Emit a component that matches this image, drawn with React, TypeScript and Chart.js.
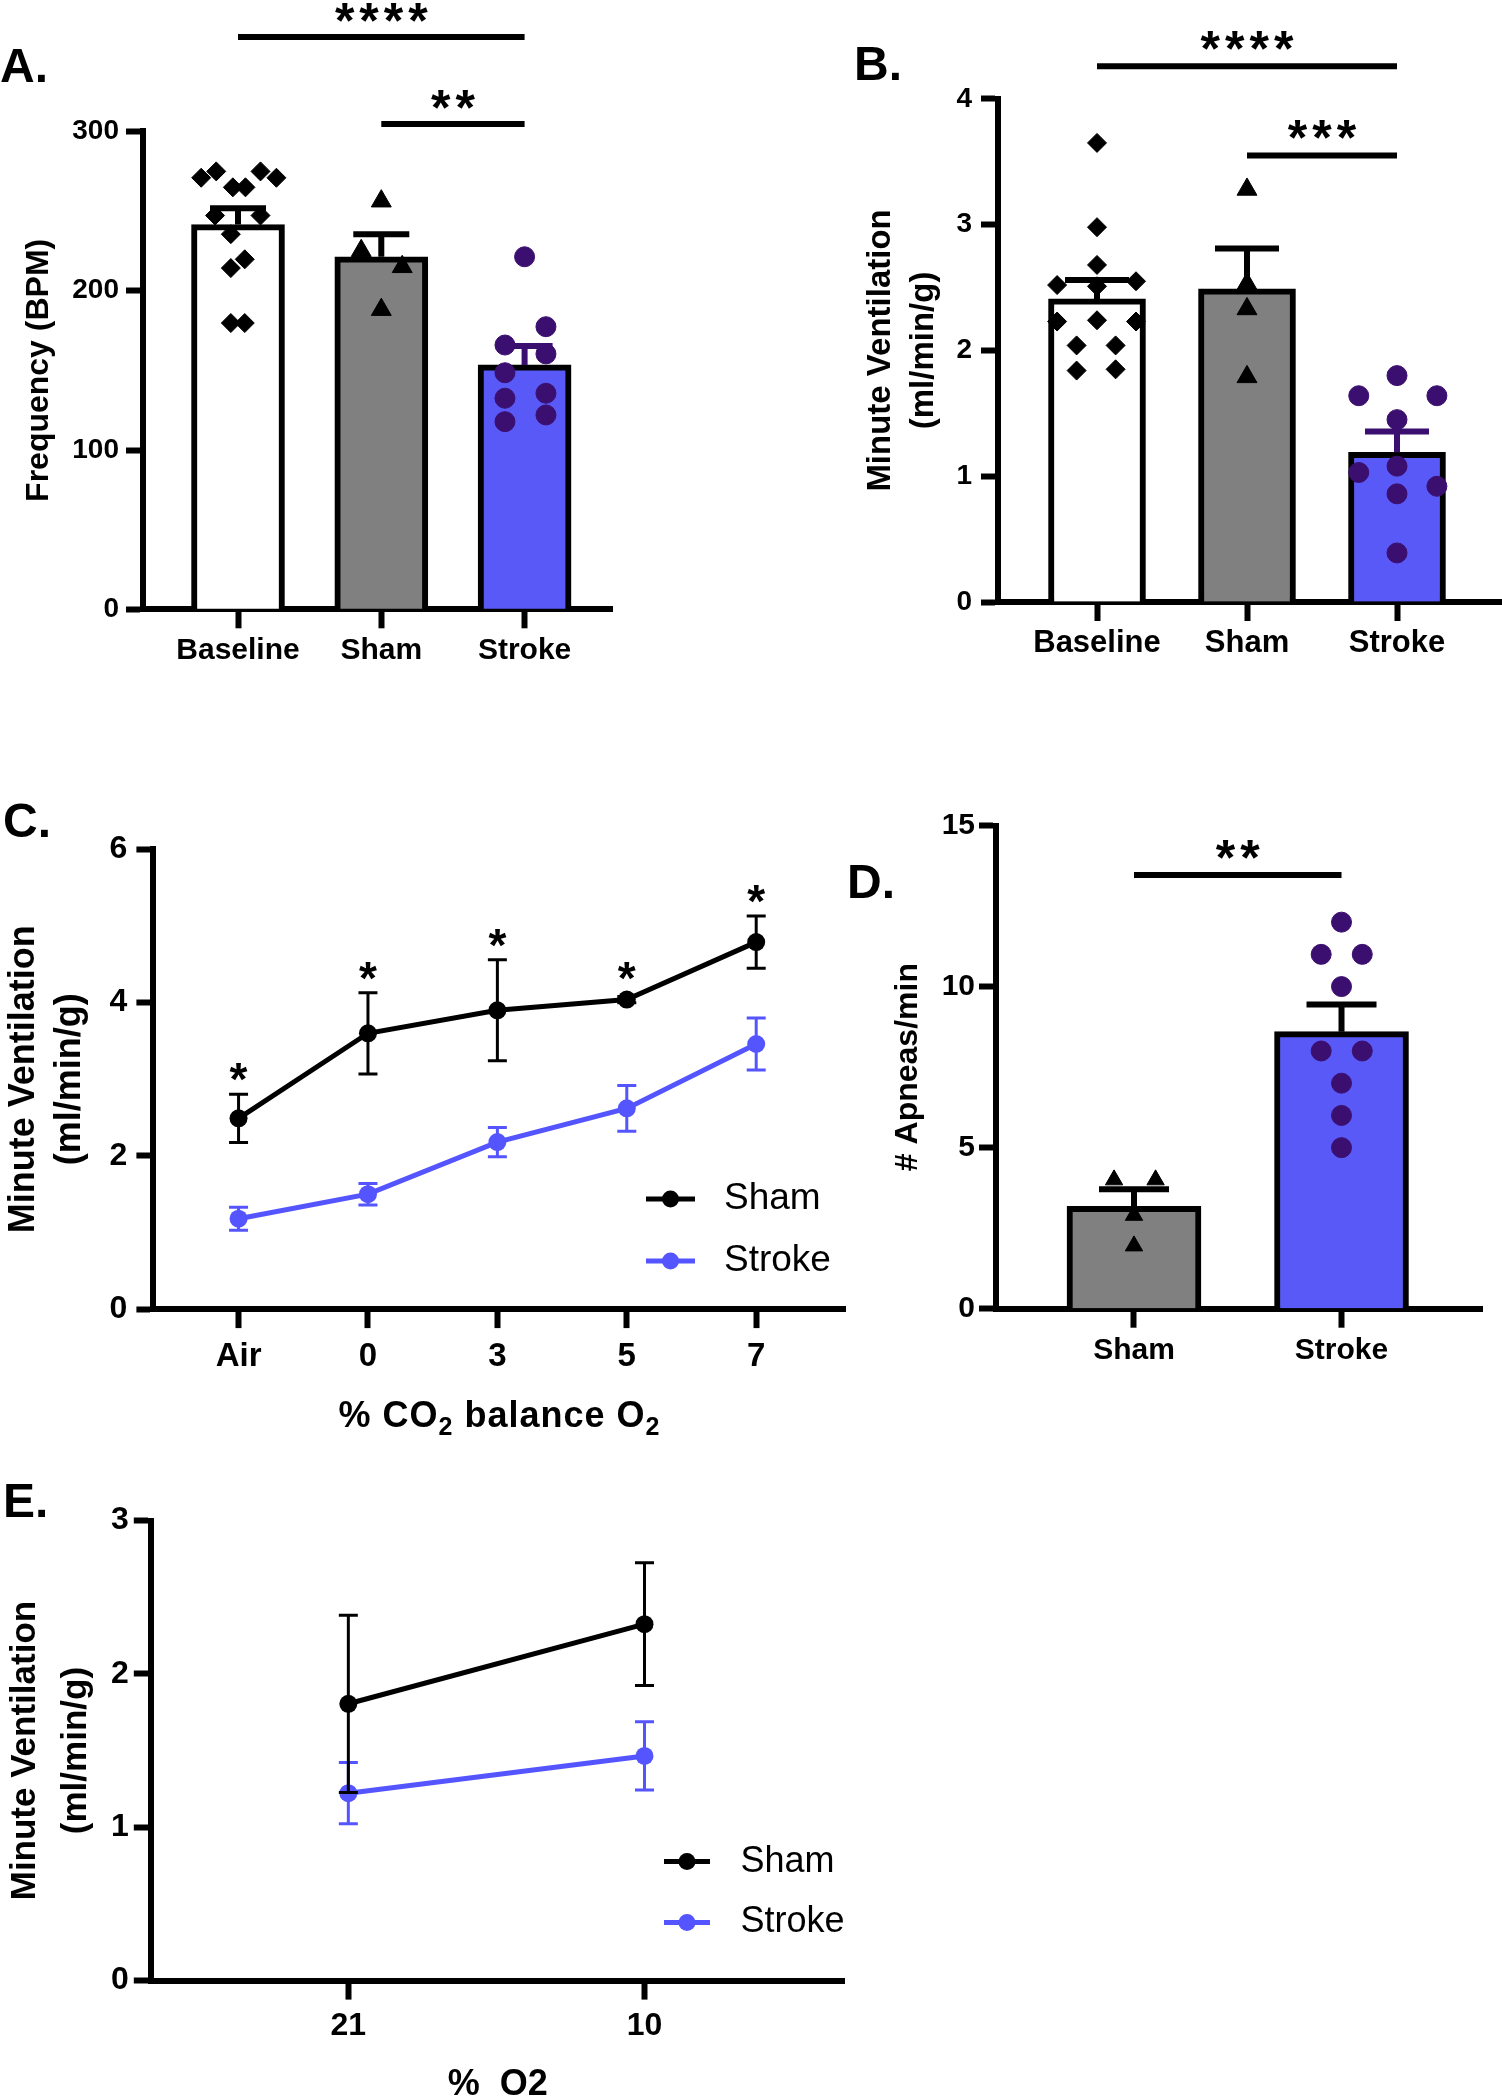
import React, { useEffect, useRef } from 'react';
import { Chart, registerables } from 'chart.js';

Chart.register(...registerables);

const FONT = '"Liberation Sans", Arial, Helvetica, sans-serif';
Chart.defaults.font.family = FONT;
Chart.defaults.color = '#000000';

// ---------- colours ----------
const BLACK = '#000000';
const WHITE = '#ffffff';
const GRAY = '#808080';
const BLUE_BAR = '#5959F8';
const BLUE_LINE = '#5555FF';
const PURPLE = '#3B0F6F';

// ---------- Panel A : Frequency (BPM) ----------
const aCategories = ['Baseline', 'Sham', 'Stroke'];
const aYTicks = [0, 100, 200, 300];
const aMeans = [241.5, 221.3, 153.4];
const aSems = [10.3, 14.2, 11.9];
const aBaselineValues = [270.9, 274.9, 264.9, 264.9, 274.9, 270.9, 247.2, 247.2, 235.5, 219.7, 214.2, 179.7, 179.7];
const aBaselineSpread = [-0.257, -0.152, -0.036, 0.052, 0.157, 0.268, -0.16, 0.157, -0.05, 0.047, -0.05, -0.05, 0.047];
const aShamValues = [256.2, 225.1, 215.0, 188.1];
const aShamSpread = [0, -0.14, 0.146, 0];
const aStrokeValues = [221.3, 177.4, 165.9, 160.3, 148.5, 135.6, 132.5, 122.0, 117.8];
const aStrokeSpread = [0, 0.149, -0.137, 0.149, -0.137, 0.149, -0.137, 0.149, -0.137];
const aSigFrom = [0, 1];
const aSigTo = [2, 2];
const aSigY = [359.3, 304.6];
const aSigText = ['****', '**'];
const aSigTextY = [376.2, 321.5];

// ---------- Panel B : Minute ventilation ----------
const bCategories = ['Baseline', 'Sham', 'Stroke'];
const bYTicks = [0, 1, 2, 3, 4];
const bMeans = [2.41, 2.49, 1.19];
const bSems = [0.15, 0.32, 0.165];
const bBaselineValues = [3.65, 2.98, 2.68, 2.52, 2.55, 2.51, 2.23, 2.24, 2.23, 2.04, 2.04, 1.84, 1.85];
const bBaselineSpread = [0, 0, 0, -0.266, 0.26, 0, -0.266, 0, 0.26, -0.136, 0.124, -0.136, 0.124];
const bShamValues = [3.28, 2.53, 2.33, 1.79];
const bShamSpread = [0, 0, 0, 0];
const bStrokeValues = [1.8, 1.64, 1.64, 1.45, 1.03, 1.08, 0.92, 0.86, 0.39];
const bStrokeSpread = [0, -0.255, 0.266, 0, -0.255, 0, 0.266, 0, 0];
const bSigFrom = [0, 1];
const bSigTo = [2, 2];
const bSigY = [4.26, 3.55];
const bSigText = ['****', '***'];
const bSigTextY = [4.48, 3.77];

// ---------- Panel C : CO2 response ----------
const cCategories = ['Air', '0', '3', '5', '7'];
const cYTicks = [0, 2, 4, 6];
const cSeries = ['Sham', 'Stroke'];
const cShamMeans = [2.49, 3.6, 3.9, 4.04, 4.79];
const cShamErr = [0.315, 0.53, 0.66, 0.04, 0.34];
const cStrokeMeans = [1.18, 1.5, 2.18, 2.62, 3.46];
const cStrokeErr = [0.15, 0.14, 0.19, 0.3, 0.34];
const cStarText = ['*', '*', '*', '*', '*'];
const cStarY = [3.13, 4.44, 4.87, 4.44, 5.45];

// ---------- Panel D : Apneas ----------
const dCategories = ['Sham', 'Stroke'];
const dYTicks = [0, 5, 10, 15];
const dMeans = [3.18, 8.6];
const dSems = [0.53, 0.84];
const dShamValues = [4.0, 4.0, 2.9, 1.95];
const dShamSpread = [-0.096, 0.104, 0, 0];
const dStrokeValues = [12, 11, 11, 10, 8, 8, 7, 6, 5];
const dStrokeSpread = [0, -0.098, 0.1, 0, -0.098, 0.1, 0, 0, 0];
const dSigFrom = [0];
const dSigTo = [1];
const dSigY = [13.46];
const dSigText = ['**'];
const dSigTextY = [14.32];

// ---------- Panel E : hypoxia ----------
const eCategories = ['21', '10'];
const eYTicks = [0, 1, 2, 3];
const eSeries = ['Sham', 'Stroke'];
const eShamMeans = [1.805, 2.324];
const eShamErr = [0.578, 0.4];
const eStrokeMeans = [1.222, 1.465];
const eStrokeErr = [0.2, 0.223];

// ---------- layout ----------
type Box = { left: number; top: number; width: number; height: number };
type Area = { left: number; top: number; right: number; bottom: number };

const A_BOX: Box = { left: 0, top: 0, width: 660, height: 700 };
const A_AREA: Area = { left: 143, top: 131.4, right: 612, bottom: 609.3 };
const B_BOX: Box = { left: 840, top: 0, width: 662, height: 700 };
const B_AREA: Area = { left: 998, top: 98.9, right: 1502, bottom: 602 };
const C_BOX: Box = { left: 0, top: 780, width: 880, height: 660 };
const C_AREA: Area = { left: 153.4, top: 849.4, right: 845.5, bottom: 1309.1 };
const D_BOX: Box = { left: 840, top: 780, width: 662, height: 620 };
const D_AREA: Area = { left: 996, top: 825.5, right: 1482, bottom: 1308.7 };
const E_BOX: Box = { left: 0, top: 1440, width: 880, height: 680 };
const E_AREA: Area = { left: 150.8, top: 1520.5, right: 844.7, bottom: 1980.6 };

type TextItem = {
  text: string;
  x: number;
  y: number;
  size: number;
  weight?: string;
  align?: CanvasTextAlign;
  inData?: boolean;
  star?: boolean;
  spacing?: number;
};

function textPlugin(box: Box, items: TextItem[]) {
  return {
    id: 'panelTexts',
    afterDraw(chart: any) {
      const ctx = chart.ctx as CanvasRenderingContext2D;
      ctx.save();
      for (const it of items) {
        let px = it.x - box.left;
        let py = it.y - box.top;
        if (it.inData) {
          px = chart.scales.x.getPixelForValue(it.x);
          py = chart.scales.y.getPixelForValue(it.y);
        }
        ctx.font = `${it.weight ?? 'bold'} ${it.size}px ${FONT}`;
        ctx.fillStyle = BLACK;
        ctx.textAlign = it.align ?? 'center';
        ctx.textBaseline = 'alphabetic';
        const sp = it.spacing ?? 0;
        (ctx as any).letterSpacing = `${sp}px`;
        if (it.star) py += 0.55 * it.size;
        ctx.fillText(it.text, px + (ctx.textAlign === 'center' ? sp / 2 : 0), py);
      }
      ctx.restore();
    },
  };
}

type ErrItem = { ds: number; x: number; lo: number; hi: number; both: boolean; color: string; width: number; cap: number };

function errorBarPlugin(items: ErrItem[]) {
  return {
    id: 'errorBars',
    afterDatasetDraw(chart: any, args: any) {
      const ctx = chart.ctx as CanvasRenderingContext2D;
      const xs = chart.scales.x;
      const ys = chart.scales.y;
      for (const e of items) {
        if (e.ds !== args.index) continue;
        const px = xs.getPixelForValue(e.x);
        const pl = ys.getPixelForValue(e.lo);
        const ph = ys.getPixelForValue(e.hi);
        ctx.save();
        ctx.strokeStyle = e.color;
        ctx.lineWidth = e.width;
        ctx.lineCap = 'butt';
        ctx.beginPath();
        ctx.moveTo(px, pl);
        ctx.lineTo(px, ph);
        ctx.moveTo(px - e.cap, ph);
        ctx.lineTo(px + e.cap, ph);
        if (e.both) {
          ctx.moveTo(px - e.cap, pl);
          ctx.lineTo(px + e.cap, pl);
        }
        ctx.stroke();
        ctx.restore();
      }
    },
  };
}

function legendPlugin(box: Box, ys: number[], x1: number, x2: number, tx: number, size: number) {
  return {
    id: 'panelLegend',
    afterDraw(chart: any) {
      const ctx = chart.ctx as CanvasRenderingContext2D;
      ctx.save();
      chart.data.datasets.forEach((ds: any, i: number) => {
        const y = ys[i] - box.top;
        ctx.strokeStyle = ds.borderColor;
        ctx.lineWidth = 5;
        ctx.beginPath();
        ctx.moveTo(x1 - box.left, y);
        ctx.lineTo(x2 - box.left, y);
        ctx.stroke();
        ctx.fillStyle = ds.borderColor;
        ctx.beginPath();
        ctx.arc((x1 + x2) / 2 - box.left, y, 8.5, 0, Math.PI * 2);
        ctx.fill();
        ctx.fillStyle = BLACK;
        ctx.font = `${size}px ${FONT}`;
        ctx.textAlign = 'left';
        ctx.textBaseline = 'middle';
        ctx.fillText(ds.label, tx - box.left, y);
      });
      ctx.restore();
    },
  };
}

type Seg = { t: string; sub?: boolean };
function richTitlePlugin(box: Box, segs: Seg[], baseY: number, size: number, subSize: number, subDrop: number) {
  return {
    id: 'richTitle',
    afterDraw(chart: any) {
      const ctx = chart.ctx as CanvasRenderingContext2D;
      ctx.save();
      (ctx as any).letterSpacing = '1px';
      const fontOf = (s: Seg) => `bold ${s.sub ? subSize : size}px ${FONT}`;
      let total = 0;
      for (const s of segs) {
        ctx.font = fontOf(s);
        total += ctx.measureText(s.t).width;
      }
      const cx = (chart.chartArea.left + chart.chartArea.right) / 2;
      let x = cx - total / 2;
      const y = baseY - box.top;
      ctx.fillStyle = BLACK;
      ctx.textAlign = 'left';
      ctx.textBaseline = 'alphabetic';
      for (const s of segs) {
        ctx.font = fontOf(s);
        ctx.fillText(s.t, x, s.sub ? y + subDrop : y);
        x += ctx.measureText(s.t).width;
      }
      ctx.restore();
    },
  };
}

function yAxis(p: any) {
  return {
    type: 'linear',
    min: 0,
    max: p.yTicks[p.yTicks.length - 1],
    afterBuildTicks: (s: any) => {
      s.ticks = p.yTicks.map((v: number) => ({ value: v }));
    },
    afterFit: (s: any) => {
      s.width = p.area.left - p.box.left;
    },
    ticks: { font: { size: p.yTickSize, weight: 'bold' }, color: BLACK, padding: p.yTickPad },
    grid: { display: true, drawOnChartArea: false, drawTicks: true, tickLength: 17, tickWidth: 6, tickColor: BLACK, color: BLACK },
    border: { display: true, width: 6, color: BLACK },
    title: {
      display: true,
      text: p.yTitle,
      color: BLACK,
      font: { size: p.yTitleSize, weight: 'bold', lineHeight: p.yTitleLH },
      padding: { top: p.yTitlePad, bottom: 0 },
    },
  };
}

function xAxis(p: any) {
  const cats: string[] = p.cats;
  return {
    type: 'linear',
    min: p.xMin,
    max: p.xMax,
    offset: false,
    afterBuildTicks: (s: any) => {
      s.ticks = cats.map((_, i) => ({ value: i }));
    },
    afterFit: (s: any) => {
      s.height = p.box.top + p.box.height - p.area.bottom;
    },
    ticks: {
      font: { size: p.xTickSize, weight: 'bold' },
      color: BLACK,
      padding: p.xTickPad,
      maxRotation: 0,
      minRotation: 0,
      autoSkip: false,
      callback: (v: any) => cats[Math.round(Number(v))] ?? '',
    },
    grid: { display: true, drawOnChartArea: false, drawTicks: true, tickLength: 19, tickWidth: 6, tickColor: BLACK, color: BLACK, offset: false },
    border: { display: true, width: 6, color: BLACK },
    title: p.xTitle
      ? {
          display: true,
          text: p.xTitle,
          color: BLACK,
          font: { size: p.xTitleSize, weight: 'bold', lineHeight: 1.2 },
          padding: { top: 0, bottom: p.xTitlePad },
        }
      : { display: false },
  };
}

function baseOptions(p: any) {
  return {
    responsive: false,
    animation: false,
    devicePixelRatio: 1,
    events: [],
    layout: {
      autoPadding: false,
      padding: {
        top: p.area.top - p.box.top,
        left: 0,
        right: p.box.left + p.box.width - p.area.right,
        bottom: 0,
      },
    },
    plugins: { legend: { display: false }, tooltip: { enabled: false }, title: { display: false } },
    scales: { x: xAxis(p), y: yAxis(p) },
  };
}

function sigDatasets(from: number[], to: number[], ys: number[]) {
  return from.map((f, i) => ({
    type: 'line',
    data: [
      { x: f, y: ys[i] },
      { x: to[i], y: ys[i] },
    ],
    borderColor: BLACK,
    borderWidth: 6,
    pointRadius: 0,
    clip: false,
    order: 5,
    borderCapStyle: 'butt',
  }));
}

function sigTexts(from: number[], to: number[], texts: string[], ys: number[]): TextItem[] {
  return texts.map((t, i) => ({
    text: t,
    x: (from[i] + to[i]) / 2,
    y: ys[i],
    size: 50,
    weight: 'bold',
    inData: true,
    star: true,
    spacing: 5,
  }));
}

function barConfig(p: any) {
  const datasets: any[] = [
    {
      type: 'bar',
      data: p.cats.map((_: string, i: number) => ({ x: i, y: p.means[i] })),
      backgroundColor: p.barColors,
      borderColor: BLACK,
      borderWidth: 6,
      barThickness: p.barThickness,
      order: 10,
    },
    ...sigDatasets(p.sigFrom, p.sigTo, p.sigY),
    ...p.groups.map((g: any) => ({
      type: 'scatter',
      data: g.vals.map((v: number, j: number) => ({ x: g.cat + g.spread[j], y: v })),
      pointStyle: g.style,
      pointRadius: g.r,
      pointBorderWidth: 1,
      backgroundColor: g.color,
      borderColor: g.color,
      pointBackgroundColor: g.color,
      pointBorderColor: g.color,
      showLine: false,
      order: 1,
    })),
  ];
  const errs: ErrItem[] = p.cats.map((_: string, i: number) => ({
    ds: 0,
    x: i,
    lo: p.means[i],
    hi: p.means[i] + p.sems[i],
    both: false,
    color: p.errColors[i],
    width: 6,
    cap: p.capHalf,
  }));
  return {
    type: 'bar',
    data: { datasets },
    options: baseOptions(p),
    plugins: [errorBarPlugin(errs), textPlugin(p.box, p.texts)],
  };
}

function lineConfig(p: any) {
  const datasets = p.series.map((s: any) => ({
    type: 'line',
    label: s.label,
    data: s.means.map((v: number, i: number) => ({ x: i, y: v })),
    borderColor: s.color,
    backgroundColor: s.color,
    pointBackgroundColor: s.color,
    pointBorderColor: s.color,
    borderWidth: 5,
    pointRadius: 9,
    pointBorderWidth: 0,
    tension: 0,
  }));
  const errs: ErrItem[] = [];
  p.series.forEach((s: any, k: number) => {
    s.means.forEach((m: number, i: number) => {
      errs.push({ ds: k, x: i, lo: m - s.errs[i], hi: m + s.errs[i], both: true, color: s.color, width: 3, cap: 9.5 });
    });
  });
  const plugins: any[] = [
    errorBarPlugin(errs),
    textPlugin(p.box, p.texts),
    legendPlugin(p.box, p.legendY, p.legendX1, p.legendX2, p.legendTX, p.legendSize),
  ];
  if (p.rich) plugins.push(richTitlePlugin(p.box, p.rich.segs, p.rich.y, p.rich.size, p.rich.subSize, p.rich.drop));
  return {
    type: 'line',
    data: { datasets },
    options: baseOptions(p),
    plugins,
  };
}

function makeA() {
  return barConfig({
    box: A_BOX,
    area: A_AREA,
    cats: aCategories,
    means: aMeans,
    sems: aSems,
    barColors: [WHITE, GRAY, BLUE_BAR],
    errColors: [BLACK, BLACK, PURPLE],
    barThickness: 93,
    capHalf: 28,
    groups: [
      { cat: 0, vals: aBaselineValues, spread: aBaselineSpread, style: 'rectRot', r: 9.5, color: BLACK },
      { cat: 1, vals: aShamValues, spread: aShamSpread, style: 'triangle', r: 11.5, color: BLACK },
      { cat: 2, vals: aStrokeValues, spread: aStrokeSpread, style: 'circle', r: 10, color: PURPLE },
    ],
    xMin: -0.663,
    xMax: 2.61,
    yTicks: aYTicks,
    yTitle: 'Frequency (BPM)',
    yTitleSize: 32,
    yTitleLH: 1.2,
    yTitlePad: 20.3,
    yTickSize: 28,
    yTickPad: 7,
    xTickSize: 30,
    xTickPad: 4,
    sigFrom: aSigFrom,
    sigTo: aSigTo,
    sigY: aSigY,
    texts: [
      { text: 'A.', x: 0, y: 82, size: 48, align: 'left' },
      ...sigTexts(aSigFrom, aSigTo, aSigText, aSigTextY),
    ],
  });
}

function makeB() {
  return barConfig({
    box: B_BOX,
    area: B_AREA,
    cats: bCategories,
    means: bMeans,
    sems: bSems,
    barColors: [WHITE, GRAY, BLUE_BAR],
    errColors: [BLACK, BLACK, PURPLE],
    barThickness: 97,
    capHalf: 32,
    groups: [
      { cat: 0, vals: bBaselineValues, spread: bBaselineSpread, style: 'rectRot', r: 9.5, color: BLACK },
      { cat: 1, vals: bShamValues, spread: bShamSpread, style: 'triangle', r: 11.5, color: BLACK },
      { cat: 2, vals: bStrokeValues, spread: bStrokeSpread, style: 'circle', r: 10, color: PURPLE },
    ],
    xMin: -0.66,
    xMax: 2.7,
    yTicks: bYTicks,
    yTitle: ['Minute Ventilation', '(ml/min/g)'],
    yTitleSize: 33,
    yTitleLH: 1.3,
    yTitlePad: 19.5,
    yTickSize: 28,
    yTickPad: 9,
    xTickSize: 31,
    xTickPad: 4,
    sigFrom: bSigFrom,
    sigTo: bSigTo,
    sigY: bSigY,
    texts: [
      { text: 'B.', x: 854, y: 80, size: 48, align: 'left' },
      ...sigTexts(bSigFrom, bSigTo, bSigText, bSigTextY),
    ],
  });
}

function makeC() {
  return lineConfig({
    box: C_BOX,
    area: C_AREA,
    cats: cCategories,
    xMin: -0.658,
    xMax: 4.69,
    yTicks: cYTicks,
    yTitle: ['Minute Ventilation', '(ml/min/g)'],
    yTitleSize: 36,
    yTitleLH: 1.28,
    yTitlePad: 1.4,
    yTickSize: 32,
    yTickPad: 9,
    xTickSize: 33,
    xTickPad: 9,
    series: [
      { label: cSeries[0], means: cShamMeans, errs: cShamErr, color: BLACK },
      { label: cSeries[1], means: cStrokeMeans, errs: cStrokeErr, color: BLUE_LINE },
    ],
    legendY: [1199, 1261],
    legendX1: 646,
    legendX2: 695,
    legendTX: 724,
    legendSize: 37,
    rich: {
      segs: [{ t: '% CO' }, { t: '2', sub: true }, { t: ' balance O' }, { t: '2', sub: true }],
      y: 1426.7,
      size: 36,
      subSize: 25,
      drop: 8.5,
    },
    texts: [
      { text: 'C.', x: 3, y: 837, size: 48, align: 'left' },
      ...cStarText.map((t, i) => ({ text: t, x: i, y: cStarY[i], size: 46, weight: 'bold', inData: true, star: true })),
    ],
  });
}

function makeD() {
  return barConfig({
    box: D_BOX,
    area: D_AREA,
    cats: dCategories,
    means: dMeans,
    sems: dSems,
    barColors: [GRAY, BLUE_BAR],
    errColors: [BLACK, BLACK],
    barThickness: 134,
    capHalf: 35,
    groups: [
      { cat: 0, vals: dShamValues, spread: dShamSpread, style: 'triangle', r: 10, color: BLACK },
      { cat: 1, vals: dStrokeValues, spread: dStrokeSpread, style: 'circle', r: 10, color: PURPLE },
    ],
    xMin: -0.665,
    xMax: 1.677,
    yTicks: dYTicks,
    yTitle: '# Apneas/min',
    yTitleSize: 32,
    yTitleLH: 1.2,
    yTitlePad: 48.8,
    yTickSize: 30,
    yTickPad: 4,
    xTickSize: 30,
    xTickPad: 5.5,
    sigFrom: dSigFrom,
    sigTo: dSigTo,
    sigY: dSigY,
    texts: [
      { text: 'D.', x: 847, y: 898, size: 48, align: 'left' },
      ...sigTexts(dSigFrom, dSigTo, dSigText, dSigTextY),
    ],
  });
}

function makeE() {
  return lineConfig({
    box: E_BOX,
    area: E_AREA,
    cats: eCategories,
    xMin: -0.667,
    xMax: 1.676,
    yTicks: eYTicks,
    yTitle: ['Minute Ventilation', '(ml/min/g)'],
    yTitleSize: 35,
    yTitleLH: 1.45,
    yTitlePad: 0,
    yTickSize: 32,
    yTickPad: 5,
    xTickSize: 32,
    xTickPad: 7.5,
    xTitle: '%  O2',
    xTitleSize: 36,
    xTitlePad: 13.4,
    series: [
      { label: eSeries[0], means: eShamMeans, errs: eShamErr, color: BLACK },
      { label: eSeries[1], means: eStrokeMeans, errs: eStrokeErr, color: BLUE_LINE },
    ],
    legendY: [1861.6, 1922.5],
    legendX1: 664,
    legendX2: 710,
    legendTX: 740.5,
    legendSize: 36,
    texts: [{ text: 'E.', x: 3, y: 1517, size: 48, align: 'left' }],
  });
}

function ChartCanvas({ box, make }: { box: Box; make: () => any }) {
  const ref = useRef<HTMLCanvasElement | null>(null);
  useEffect(() => {
    if (!ref.current) return;
    const chart = new Chart(ref.current, make());
    return () => chart.destroy();
  }, []);
  return (
    <canvas
      ref={ref}
      width={box.width}
      height={box.height}
      style={{ position: 'absolute', left: box.left, top: box.top, width: box.width, height: box.height, display: 'block' }}
    />
  );
}

export default function App() {
  return (
    <div style={{ position: 'absolute', left: 0, top: 0, width: 1502, height: 2100, background: '#ffffff', overflow: 'hidden' }}>
      <ChartCanvas box={A_BOX} make={makeA} />
      <ChartCanvas box={B_BOX} make={makeB} />
      <ChartCanvas box={C_BOX} make={makeC} />
      <ChartCanvas box={D_BOX} make={makeD} />
      <ChartCanvas box={E_BOX} make={makeE} />
    </div>
  );
}
